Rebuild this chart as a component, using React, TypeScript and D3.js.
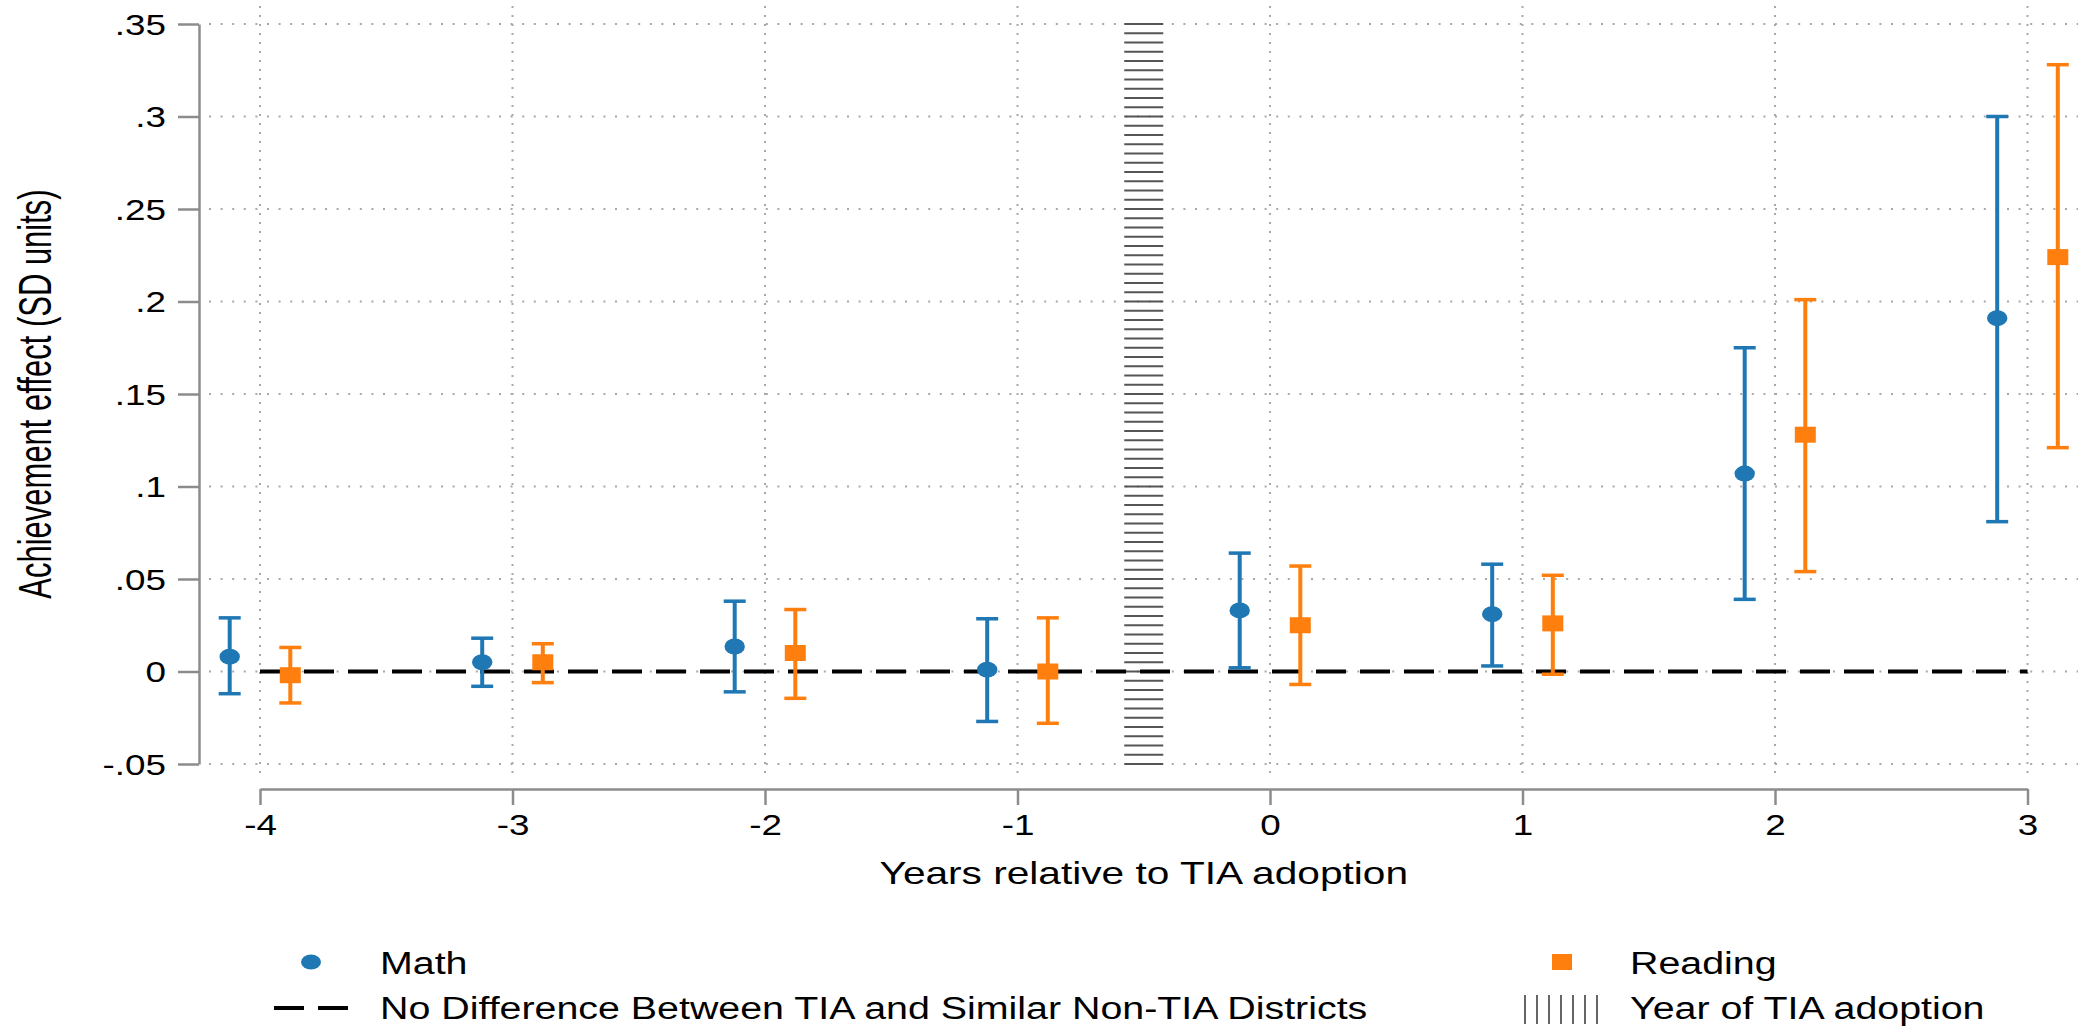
import React, { useEffect, useRef } from "react"
import * as d3 from "d3"

// event-study estimates, years relative to TIA adoption
const years = [-4, -3, -2, -1, 0, 1, 2, 3]
const xTickLabels = ["-4", "-3", "-2", "-1", "0", "1", "2", "3"]

const mathEst = [0.008, 0.005, 0.0135, 0.001, 0.033, 0.031, 0.107, 0.191]
const mathLo = [-0.012, -0.008, -0.011, -0.027, 0.002, 0.003, 0.039, 0.081]
const mathHi = [0.029, 0.018, 0.038, 0.0285, 0.064, 0.058, 0.175, 0.300]

const readEst = [-0.002, 0.005, 0.010, 0.000, 0.025, 0.026, 0.128, 0.224]
const readLo = [-0.017, -0.006, -0.0145, -0.028, -0.007, -0.0015, 0.054, 0.121]
const readHi = [0.013, 0.015, 0.0335, 0.029, 0.057, 0.052, 0.201, 0.328]

const yTicks = [-0.05, 0, 0.05, 0.1, 0.15, 0.2, 0.25, 0.3, 0.35]
const yTickLabels = ["-.05", "0", ".05", ".1", ".15", ".2", ".25", ".3", ".35"]

const adoptionYear = -0.5

const W = 2078
const H = 1027
const stretch = 1.27
const font = '"Liberation Sans", Arial, Helvetica, sans-serif'
const blue = '#1f77b4'
const orange = '#ff7f0e'

const App = () => {
    const ref = useRef<SVGGElement>(null)

    useEffect(() => {
        const g = d3.select(ref.current)
        g.selectAll('*').remove()

        const x = d3.scaleLinear().domain([-4, 3]).range([260, 2027.5])
        const y = d3.scaleLinear().domain([-0.05, 0.35]).range([764, 24])

        const axisColor = '#8c8c8c'
        const gridColor = '#a8a8a8'

        // dotted grid
        g.append('g').selectAll('line')
            .data(yTicks)
            .join('line')
                .attr('x1', 209).attr('x2', W)
                .attr('y1', d => y(d)).attr('y2', d => y(d))
                .attr('stroke', gridColor)
                .attr('stroke-width', 2)
                .attr('stroke-dasharray', '2 9.6')

        g.append('g').selectAll('line')
            .data(years)
            .join('line')
                .attr('x1', d => x(d)).attr('x2', d => x(d))
                .attr('y1', y(0.35) - 18).attr('y2', y(-0.05) + 16)
                .attr('stroke', gridColor)
                .attr('stroke-width', 2)
                .attr('stroke-dasharray', '2 7')

        // y axis
        const yAxisG = g.append('g')
            .attr('transform', 'translate(199,0)')
            .call(d3.axisLeft(y)
                .tickValues(yTicks)
                .tickFormat((d, i) => yTickLabels[i])
                .tickSize(21)
                .tickSizeOuter(0))
        yAxisG.attr('font-family', font).attr('font-size', 29)
        yAxisG.selectAll('line, path').attr('stroke', axisColor).attr('stroke-width', 2.5)
        yAxisG.selectAll('text')
            .attr('x', null)
            .attr('dy', '0.36em')
            .attr('fill', '#000')
            .attr('transform', `translate(-33,0) scale(${stretch},1)`)

        // x axis
        const xAxisG = g.append('g')
            .attr('transform', 'translate(0,789)')
            .call(d3.axisBottom(x)
                .tickValues(years)
                .tickFormat((d, i) => xTickLabels[i])
                .tickSize(16)
                .tickSizeOuter(0))
        xAxisG.attr('font-family', font).attr('font-size', 29)
        xAxisG.selectAll('line, path').attr('stroke', axisColor).attr('stroke-width', 2.5)
        xAxisG.selectAll('text')
            .attr('y', null)
            .attr('dy', null)
            .attr('fill', '#000')
            .attr('transform', `translate(0,46) scale(${stretch},1)`)

        // year of adoption band
        const bx = x(adoptionYear)
        g.append('g').selectAll('line')
            .data(d3.range(y(0.35), y(-0.05) + 0.5, 9.25))
            .join('line')
                .attr('x1', bx - 19.5).attr('x2', bx + 19.5)
                .attr('y1', d => d).attr('y2', d => d)
                .attr('stroke', '#555')
                .attr('stroke-width', 2)

        // zero reference line
        g.append('line')
            .attr('x1', x(-4)).attr('x2', x(3))
            .attr('y1', y(0)).attr('y2', y(0))
            .attr('stroke', '#000')
            .attr('stroke-width', 4)
            .attr('stroke-dasharray', '30 14')

        const series = [
            { est: mathEst, lo: mathLo, hi: mathHi, off: -0.12, color: blue, shape: 'circle' },
            { est: readEst, lo: readLo, hi: readHi, off: 0.12, color: orange, shape: 'square' },
        ]

        series.forEach(s => {
            const sg = g.append('g')
            const rows = years.map((yr, i) => ({ cx: x(yr + s.off), est: s.est[i], lo: s.lo[i], hi: s.hi[i] }))

            sg.selectAll('line.bar')
                .data(rows)
                .join('line')
                    .attr('class', 'bar')
                    .attr('x1', d => d.cx).attr('x2', d => d.cx)
                    .attr('y1', d => y(d.lo)).attr('y2', d => y(d.hi))
                    .attr('stroke', s.color).attr('stroke-width', 4)

            ;['lo', 'hi'].forEach(k => {
                sg.selectAll(`line.cap-${k}`)
                    .data(rows)
                    .join('line')
                        .attr('class', `cap-${k}`)
                        .attr('x1', d => d.cx - 11).attr('x2', d => d.cx + 11)
                        .attr('y1', d => y(d[k])).attr('y2', d => y(d[k]))
                        .attr('stroke', s.color).attr('stroke-width', 3.5)
            })

            if (s.shape === 'circle') {
                sg.selectAll('ellipse')
                    .data(rows)
                    .join('ellipse')
                        .attr('cx', d => d.cx).attr('cy', d => y(d.est))
                        .attr('rx', 10.2).attr('ry', 8)
                        .attr('fill', s.color)
            } else {
                sg.selectAll('rect')
                    .data(rows)
                    .join('rect')
                        .attr('x', d => d.cx - 10.5).attr('y', d => y(d.est) - 8)
                        .attr('width', 21).attr('height', 16)
                        .attr('fill', s.color)
            }
        })

        // axis titles
        g.append('text')
            .attr('transform', `translate(${(x(-4) + x(3)) / 2},884) scale(${stretch},1)`)
            .attr('text-anchor', 'middle')
            .attr('font-family', font)
            .attr('font-size', 32)
            .attr('fill', '#000')
            .text('Years relative to TIA adoption')

        g.append('text')
            .attr('transform', `translate(51,${(y(0.35) + y(-0.05)) / 2}) scale(1.5,1) rotate(-90)`)
            .attr('text-anchor', 'middle')
            .attr('font-family', font)
            .attr('font-size', 31)
            .attr('fill', '#000')
            .text('Achievement effect (SD units)')

        // legend
        const leg = g.append('g').attr('font-family', font).attr('font-size', 31).attr('fill', '#000')
        const legText = (tx, ty, label) => leg.append('text')
            .attr('transform', `translate(${tx},${ty}) scale(${stretch},1)`)
            .text(label)

        leg.append('ellipse')
            .attr('cx', 311).attr('cy', 962)
            .attr('rx', 10).attr('ry', 7.5)
            .attr('fill', blue)
        legText(380, 974, 'Math')

        leg.append('rect')
            .attr('x', 1552).attr('y', 954)
            .attr('width', 20).attr('height', 16)
            .attr('fill', orange)
        legText(1630, 974, 'Reading')

        leg.append('line')
            .attr('x1', 274).attr('x2', 348)
            .attr('y1', 1008).attr('y2', 1008)
            .attr('stroke', '#000').attr('stroke-width', 4)
            .attr('stroke-dasharray', '30 14')
        legText(380, 1019, 'No Difference Between TIA and Similar Non-TIA Districts')

        leg.append('g').selectAll('line')
            .data(d3.range(7))
            .join('line')
                .attr('x1', d => 1525 + d * 12).attr('x2', d => 1525 + d * 12)
                .attr('y1', 995).attr('y2', 1024)
                .attr('stroke', '#666').attr('stroke-width', 2)
        legText(1630, 1019, 'Year of TIA adoption')
    }, [])

    return (
        <svg width={W} height={H} style={{ position: 'absolute', left: 0, top: 0, display: 'block', background: '#fff' }}>
            <g ref={ref} />
        </svg>
    )
}

export default App
